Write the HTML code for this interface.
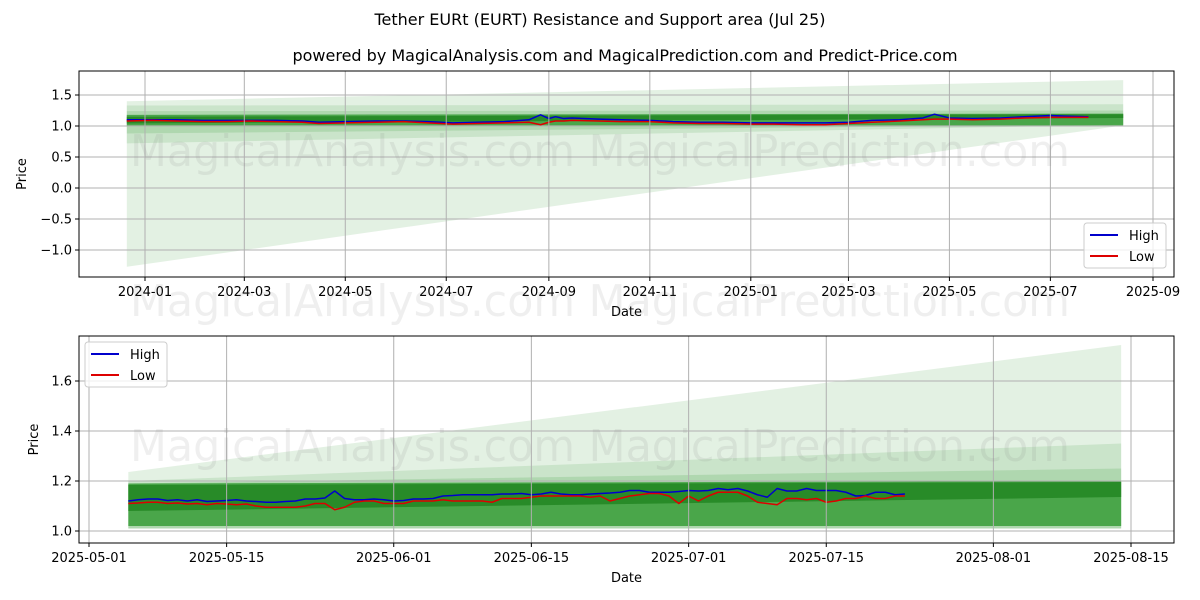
<!DOCTYPE html>
<html><head><meta charset="utf-8">
<style>
body{margin:0;background:#fff}
svg{display:block;font-family:"DejaVu Sans","Liberation Sans",sans-serif}
</style></head>
<body>
<svg id="chart" width="1200" height="600" viewBox="0 0 1200 600" xmlns="http://www.w3.org/2000/svg">
<g id="wm"></g>
<text x="600" y="25" text-anchor="middle" font-size="16">Tether EURt (EURT) Resistance and Support area (Jul 25)</text>
<text x="625" y="61" text-anchor="middle" font-size="16">powered by MagicalAnalysis.com and MagicalPrediction.com and Predict-Price.com</text>
<g id="top"></g>
<g id="bot"></g>
</svg>
<script>
// ---- top chart data ----
const topDates = ["2023-12-21","2024-01-05","2024-01-20","2024-02-05","2024-02-20","2024-03-05","2024-03-20","2024-04-05","2024-04-15","2024-05-01","2024-05-20","2024-06-05","2024-06-20","2024-07-05","2024-07-20","2024-08-05","2024-08-20","2024-08-27","2024-09-01","2024-09-05","2024-09-10","2024-09-15","2024-10-01","2024-10-15","2024-11-01","2024-11-15","2024-12-01","2024-12-15","2025-01-01","2025-01-15","2025-02-01","2025-02-15","2025-03-01","2025-03-15","2025-04-01","2025-04-15","2025-04-22","2025-05-01","2025-05-15","2025-06-01","2025-06-15","2025-07-01","2025-07-10","2025-07-24"];
const topHigh = [1.10,1.10,1.10,1.09,1.09,1.09,1.09,1.08,1.06,1.07,1.08,1.08,1.07,1.05,1.06,1.07,1.10,1.18,1.12,1.15,1.12,1.13,1.11,1.10,1.09,1.07,1.06,1.06,1.05,1.05,1.05,1.05,1.06,1.09,1.10,1.13,1.19,1.13,1.12,1.13,1.15,1.17,1.16,1.15];
const topLow  = [1.08,1.09,1.08,1.07,1.07,1.08,1.07,1.06,1.04,1.05,1.06,1.07,1.05,1.03,1.04,1.05,1.06,1.02,1.06,1.08,1.08,1.09,1.08,1.07,1.07,1.05,1.04,1.04,1.03,1.03,1.02,1.02,1.04,1.06,1.08,1.10,1.11,1.11,1.10,1.11,1.13,1.14,1.14,1.14];
const topBandStartLow  = [-1.27,0.72,0.88,1.01,1.04];
const topBandStartHigh = [1.40,1.33,1.24,1.18,1.15];
const topBandEndLow    = [1.01,1.02,1.02,1.01,1.13];
const topBandEndHigh   = [1.74,1.35,1.25,1.20,1.19];
const topYTicks = [-1.0,-0.5,0.0,0.5,1.0,1.5];
const topYLabels = ["\u22121.0","\u22120.5","0.0","0.5","1.0","1.5"];
const topXTicks = ["2024-01-01","2024-03-01","2024-05-01","2024-07-01","2024-09-01","2024-11-01","2025-01-01","2025-03-01","2025-05-01","2025-07-01","2025-09-01"];
const topXLabels = ["2024-01","2024-03","2024-05","2024-07","2024-09","2024-11","2025-01","2025-03","2025-05","2025-07","2025-09"];
// ---- bottom chart data ----
const botStart = "2025-05-05";
const botHigh = [1.12,1.125,1.128,1.128,1.122,1.125,1.12, 1.125,1.118,1.12,1.122,1.125,1.12,1.118, 1.115,1.115,1.118,1.12,1.128,1.128,1.132, 1.16,1.13,1.125,1.125,1.128,1.125,1.12, 1.122,1.128,1.128,1.13,1.14,1.142,1.145, 1.145,1.145,1.145,1.148,1.148,1.15,1.145, 1.148,1.155,1.148,1.145,1.145,1.148,1.15, 1.152,1.155,1.162,1.162,1.155,1.155,1.155, 1.158,1.162,1.16,1.162,1.17,1.165,1.17, 1.16,1.145,1.135,1.17,1.16,1.16,1.17, 1.162,1.162,1.162,1.155,1.14,1.142,1.155, 1.155,1.145,1.148];
const botLow = [1.11,1.112,1.115,1.115,1.11,1.112,1.108, 1.11,1.105,1.11,1.108,1.105,1.108,1.10, 1.095,1.095,1.095,1.095,1.10,1.11,1.11, 1.085,1.095,1.115,1.12,1.12,1.11,1.11, 1.11,1.12,1.12,1.12,1.125,1.12,1.12, 1.12,1.12,1.115,1.13,1.13,1.13,1.135, 1.14,1.14,1.14,1.14,1.14,1.135,1.14, 1.12,1.13,1.14,1.145,1.15,1.15,1.14, 1.11,1.14,1.12,1.14,1.155,1.155,1.155, 1.14,1.115,1.11,1.105,1.13,1.13,1.125, 1.13,1.115,1.12,1.13,1.13,1.14,1.13, 1.13,1.14,1.14];
const botBandStartLow  = [1.01,1.01,1.01,1.02,1.08];
const botBandStartHigh = [1.236,1.20,1.19,1.19,1.184];
const botBandEndLow    = [1.01,1.01,1.01,1.02,1.136];
const botBandEndHigh   = [1.744,1.35,1.25,1.20,1.196];
const botYTicks = [1.0,1.2,1.4,1.6];
const botYLabels = ["1.0","1.2","1.4","1.6"];
const botXTicks = ["2025-05-01","2025-05-15","2025-06-01","2025-06-15","2025-07-01","2025-07-15","2025-08-01","2025-08-15"];
const bandStart = "2023-12-21", bandEnd = "2025-08-14", botBandStart = "2025-05-05";

const NS="http://www.w3.org/2000/svg";
const day = s => Date.parse(s+"T00:00:00Z")/86400000;
function mk(parent, tag, attrs, text){const e=document.createElementNS(NS,tag);for(const k in attrs)e.setAttribute(k,attrs[k]);if(text!==undefined)e.textContent=text;parent.appendChild(e);return e;}
const bandFill=["rgba(0,128,0,0.11)","rgba(0,128,0,0.11)","rgba(0,128,0,0.13)","rgba(40,150,40,0.75)","rgba(30,130,30,0.75)"];

function drawChart(g, box, xs, ys, xTicks, xLabels, yTicks, yLabels, bands, series, legend){
  const {x0,x1,y0,y1}=box;
  const defsId=g.id+"-clip";
  const cp=mk(g,"clipPath",{id:defsId});mk(cp,"rect",{x:x0,y:y0,width:x1-x0,height:y1-y0});
  const pg=mk(g,"g",{"clip-path":"url(#"+defsId+")"});
  for(let i=0;i<bands.sl.length;i++){
    const xa=xs(day(bands.start)), xb=xs(day(bands.end));
    const p=mk(pg,"polygon",{points:`${xa},${ys(bands.sh[i])} ${xb},${ys(bands.eh[i])} ${xb},${ys(bands.el[i])} ${xa},${ys(bands.sl[i])}`,fill:bandFill[i]});
    
    
  }
  xTicks.forEach((t,i)=>{const x=xs(day(t));
    const l=mk(g,"line",{x1:x,x2:x,y1:y0,y2:y1,stroke:"#b0b0b0","stroke-width":1});
    
    mk(g,"line",{x1:x,x2:x,y1:y1,y2:y1+4,stroke:"#000"});
    const tx=mk(g,"text",{x:x,y:y1+19,"text-anchor":"middle","font-size":13},xLabels[i]);
    
  });
  yTicks.forEach((t,i)=>{const y=ys(t);
    const l=mk(g,"line",{x1:x0,x2:x1,y1:y,y2:y,stroke:"#b0b0b0","stroke-width":1});
    
    mk(g,"line",{x1:x0-4,x2:x0,y1:y,y2:y,stroke:"#000"});
    const tx=mk(g,"text",{x:x0-7,y:y+4.5,"text-anchor":"end","font-size":13},yLabels[i]);
    
  });
  series.forEach(s=>{
    const pts=s.vals.map((v,i)=>xs(s.dates[i])+","+ys(v)).join(" ");
    const pl=mk(pg,"polyline",{points:pts,fill:"none",stroke:s.color,"stroke-width":1.5,"stroke-linejoin":"round"});
    
  });
  const fr=mk(g,"rect",{x:x0,y:y0,width:x1-x0,height:y1-y0,fill:"none",stroke:"#000","stroke-width":1});
  
  const xt=mk(g,"text",{x:(x0+x1)/2,y:y1+39,"text-anchor":"middle","font-size":13},"Date");
  
  const yt=mk(g,"text",{x:0,y:0,"text-anchor":"middle","font-size":13,transform:`translate(${legend.ylx},${(y0+y1)/2}) rotate(-90)`},"Price");
  
  const lg=mk(g,"g",{});
  
  mk(lg,"rect",{x:legend.x,y:legend.y,width:82,height:45,rx:3,fill:"rgba(255,255,255,0.8)",stroke:"#ccc"});
  [["High","#0000cc"],["Low","#dd0000"]].forEach((e,i)=>{
    const ey=legend.y+12+i*21;
    const en=mk(lg,"g",{});
    
    mk(en,"line",{x1:legend.x+6,x2:legend.x+34,y1:ey,y2:ey,stroke:e[1],"stroke-width":2});
    mk(en,"text",{x:legend.x+45,y:ey+5,"font-size":13},e[0]);
  });
}

const top_=document.getElementById("top"), bot_=document.getElementById("bot");

const tBox={x0:79,x1:1174,y0:71,y1:277};
const tD0=day("2024-01-01");
const txs=d=>145+(d-tD0)*(1008/609);
const tys=v=>188-62*v;
const tDays=topDates.map(day);
drawChart(top_,tBox,txs,tys,topXTicks,topXLabels,topYTicks,topYLabels,
 {start:bandStart,end:bandEnd,sl:topBandStartLow,sh:topBandStartHigh,el:topBandEndLow,eh:topBandEndHigh},
 [{name:"high",color:"#0000cc",vals:topHigh,dates:tDays},{name:"low",color:"#dd0000",vals:topLow,dates:tDays}],
 {x:1084,y:223,ylx:26});

const bBox={x0:79,x1:1174,y0:336,y1:543};
const bD0=day("2025-05-01");
const bxs=d=>89+(d-bD0)*(1042/106);
const bys=v=>531-(v-1)*250;
const bS=day(botStart);
const bDays=botHigh.map((_,i)=>bS+i);
drawChart(bot_,bBox,bxs,bys,botXTicks,botXTicks,botYTicks,botYLabels,
 {start:botBandStart,end:bandEnd,sl:botBandStartLow,sh:botBandStartHigh,el:botBandEndLow,eh:botBandEndHigh},
 [{name:"high",color:"#0000cc",vals:botHigh,dates:bDays},{name:"low",color:"#dd0000",vals:botLow,dates:bDays}],
 {x:85,y:342,ylx:38});

// watermark overlay (condensed, faint)
const svg=document.getElementById("chart");
[150,300,445].forEach(y=>{
  const w=mk(svg,"text",{x:130,y:y+16,"font-size":44,fill:"rgba(120,120,120,0.12)",textLength:940,lengthAdjust:"spacingAndGlyphs"},"MagicalAnalysis.com    MagicalPrediction.com");
  
  
});
</script>
</body></html>
